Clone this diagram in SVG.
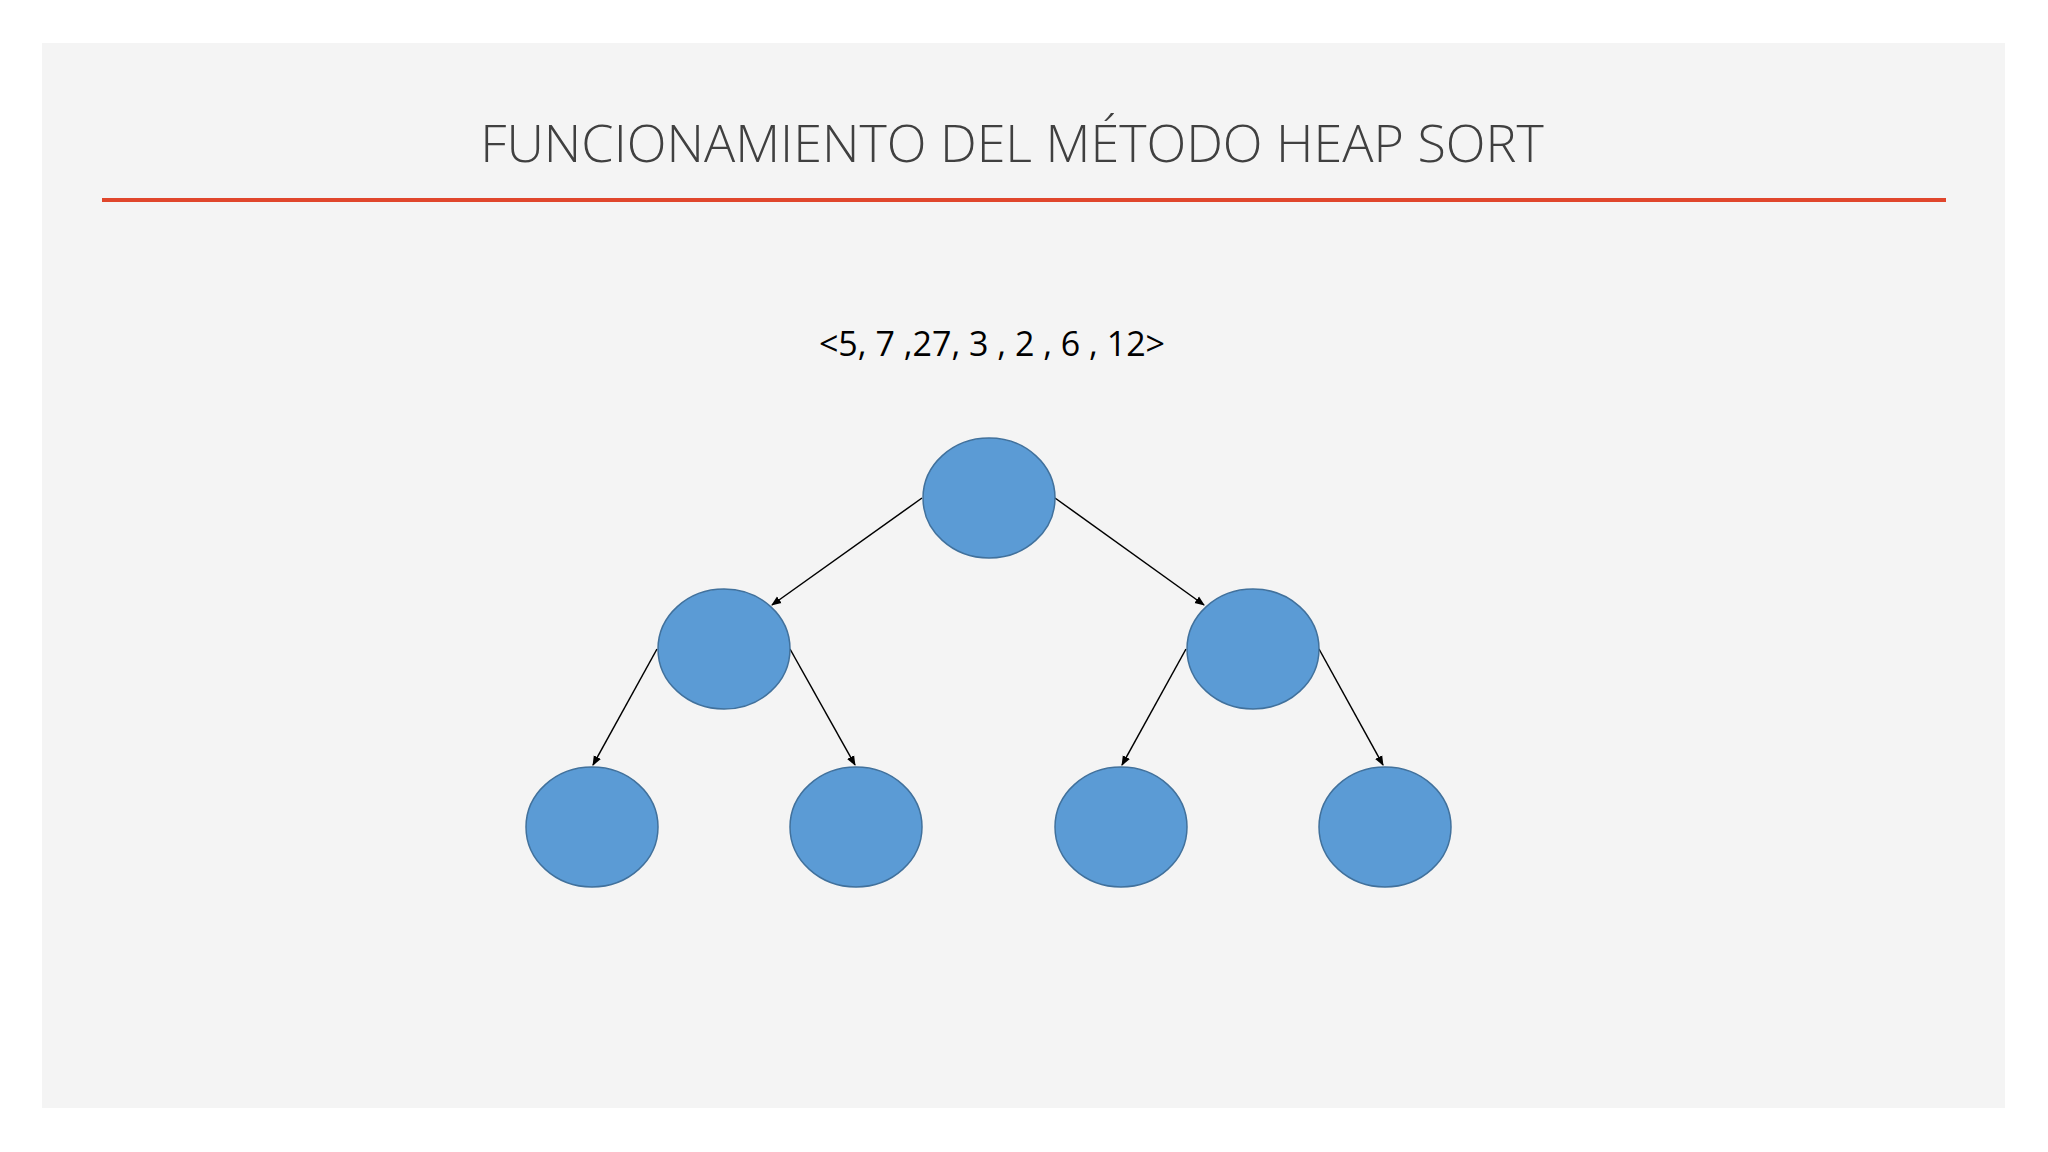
<svg xmlns="http://www.w3.org/2000/svg" width="2048" height="1152" viewBox="0 0 2048 1152">
<style>
.n{fill:#5b9bd5;stroke:#41719c;stroke-width:1.5}
.e{stroke:#000;stroke-width:1.5;fill:none;marker-end:url(#a)}
text{font-family:"Open Sans","Noto Sans",sans-serif}
</style>
<defs><marker id="a" markerWidth="10" markerHeight="10" refX="9" refY="5" orient="auto" markerUnits="userSpaceOnUse"><path d="M0,1 L10,5 L0,9 z" fill="#000"/></marker></defs>
<rect width="2048" height="1152" fill="#fff"/>
<rect x="42" y="43" width="1963" height="1065" fill="#f4f4f4"/>
<text x="1012" y="162" font-size="52" fill="#404040" text-anchor="middle" font-weight="300">FUNCIONAMIENTO DEL MÉTODO HEAP SORT</text>
<line x1="102" y1="200" x2="1946" y2="200" stroke="#e0462c" stroke-width="4"/>
<text x="992" y="356" font-size="34" fill="#000" text-anchor="middle">&lt;5, 7 ,27, 3 , 2 , 6 , 12&gt;</text>
<g id="connectors">
<line class="e" x1="922" y1="498" x2="772" y2="605"/>
<line class="e" x1="1055" y1="498" x2="1204" y2="605"/>
<line class="e" x1="657" y1="649" x2="593" y2="765"/>
<line class="e" x1="790" y1="649" x2="855" y2="765"/>
<line class="e" x1="1186" y1="649" x2="1122" y2="765"/>
<line class="e" x1="1319" y1="649" x2="1383" y2="765"/>
</g>
<g id="n1"><ellipse class="n" cx="989" cy="498" rx="66" ry="60"/></g>
<g id="n2"><ellipse class="n" cx="724" cy="649" rx="66" ry="60"/></g>
<g id="n3"><ellipse class="n" cx="1253" cy="649" rx="66" ry="60"/></g>
<g id="n4"><ellipse class="n" cx="592" cy="827" rx="66" ry="60"/></g>
<g id="n5"><ellipse class="n" cx="856" cy="827" rx="66" ry="60"/></g>
<g id="n6"><ellipse class="n" cx="1121" cy="827" rx="66" ry="60"/></g>
<g id="n7"><ellipse class="n" cx="1385" cy="827" rx="66" ry="60"/></g>
</svg>
